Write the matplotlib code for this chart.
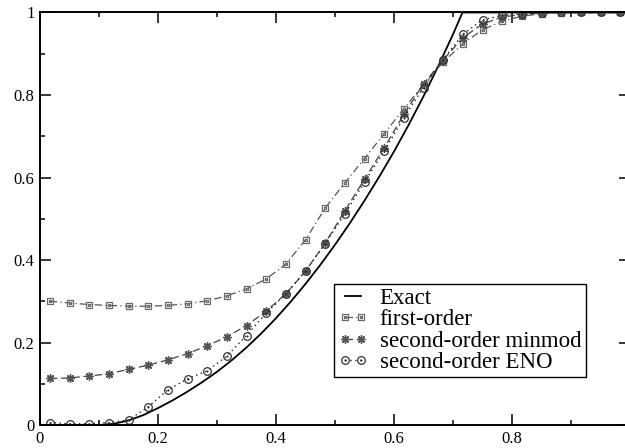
import matplotlib

matplotlib.use("Agg")
import matplotlib.pyplot as plt
import numpy as np
from matplotlib.path import Path

# cell centres, 30 cells on [0, 1]
cell_x = [(i + 0.5) / 30 for i in range(30)]

first_order = [0.300, 0.296, 0.292, 0.290, 0.288, 0.288, 0.290, 0.294, 0.301, 0.313,
               0.330, 0.354, 0.390, 0.449, 0.526, 0.587, 0.646, 0.706, 0.767, 0.825,
               0.880, 0.924, 0.958, 0.979, 0.991, 0.997, 0.999, 1.000, 1.000, 1.000]
minmod = [0.113, 0.114, 0.119, 0.124, 0.135, 0.145, 0.158, 0.173, 0.192, 0.214,
          0.241, 0.276, 0.318, 0.373, 0.441, 0.519, 0.596, 0.672, 0.753, 0.827,
          0.885, 0.939, 0.972, 0.989, 0.995, 0.999, 1.000, 1.000, 1.000, 1.000]
eno = [0.006, 0.003, 0.003, 0.006, 0.012, 0.044, 0.085, 0.112, 0.131, 0.167,
       0.217, 0.271, 0.318, 0.373, 0.440, 0.512, 0.589, 0.664, 0.745, 0.818,
       0.886, 0.947, 0.982, 0.993, 0.996, 0.999, 1.000, 1.000, 1.000, 1.000]

exact_x = [0.0, 0.10, 0.125, 0.15, 0.175, 0.20, 0.225, 0.25, 0.275, 0.30, 0.325, 0.35,
           0.375, 0.40, 0.425, 0.45, 0.475, 0.50, 0.525, 0.55, 0.575, 0.60, 0.625,
           0.65, 0.675, 0.70, 0.716, 1.0]
exact_y = [0.0, 0.0, 0.003, 0.011, 0.024, 0.041, 0.060, 0.081, 0.104, 0.129, 0.157, 0.188,
           0.222, 0.259, 0.299, 0.342, 0.388, 0.437, 0.489, 0.544, 0.602, 0.663, 0.728,
           0.797, 0.870, 0.947, 1.0, 1.0]

plt.rcParams["font.family"] = ["Liberation Serif", "DejaVu Serif"]

# open markers with a small dot in the middle
circ_dot = Path.make_compound_path(Path.unit_circle(), Path.circle(radius=0.12))
sq = Path.unit_rectangle()
sq = Path(sq.vertices - 0.5, sq.codes)
sq_dot = Path.make_compound_path(sq, Path(sq.vertices * 0.2, sq.codes))

fig = plt.figure(figsize=(6.25, 4.48), dpi=100)
ax = fig.add_axes([0.064, 0.0513, 0.944, 0.9208])

ax.plot(exact_x, exact_y, color="black", lw=1.3, label="Exact")
ax.plot(cell_x, first_order, color="#555555", lw=0.9, dashes=(6, 2.5, 1, 2.5),
        marker=sq_dot, ms=4.5, mfc="none", mec="#6a6a6a", mew=0.9, label="first-order")
ax.plot(cell_x, minmod, color="#444444", lw=0.9, dashes=(6, 3),
        marker=(8, 2, 0), ms=6, mec="#555555", mew=1.0, label="second-order minmod")
ax.plot(cell_x, eno, color="#222222", lw=1.0, dashes=(1, 2.5),
        marker=circ_dot, ms=5.5, mfc="none", mec="#333333", mew=0.9, label="second-order ENO")

ax.set_xlim(0, 1)
ax.set_ylim(0, 1)
ax.set_xticks(np.arange(0, 1.01, 0.2))
ax.set_xticklabels(["0", "0.2", "0.4", "0.6", "0.8", ""])
ax.set_yticks(np.arange(0, 1.01, 0.2))
ax.set_yticklabels(["0", "0.2", "0.4", "0.6", "0.8", "1"])
ax.set_xticks(np.arange(0.1, 1.0, 0.2), minor=True)
ax.set_yticks(np.arange(0.1, 1.0, 0.2), minor=True)
ax.tick_params(which="both", direction="in", top=True, right=True, width=1.1,
               labelsize=12, pad=4)
ax.tick_params(which="major", length=8)
ax.tick_params(which="minor", length=3.8)
for s in ax.spines.values():
    s.set_linewidth(1.4)

leg = ax.legend(loc="lower left", bbox_to_anchor=(0.498, 0.116), borderaxespad=0,
                fontsize=16.5, numpoints=2, handlelength=1.3, handletextpad=0.5,
                labelspacing=0.0, borderpad=0.2, fancybox=False, framealpha=1,
                edgecolor="black")
leg.get_frame().set_linewidth(1.0)

fig.savefig("out.png", dpi=100)
